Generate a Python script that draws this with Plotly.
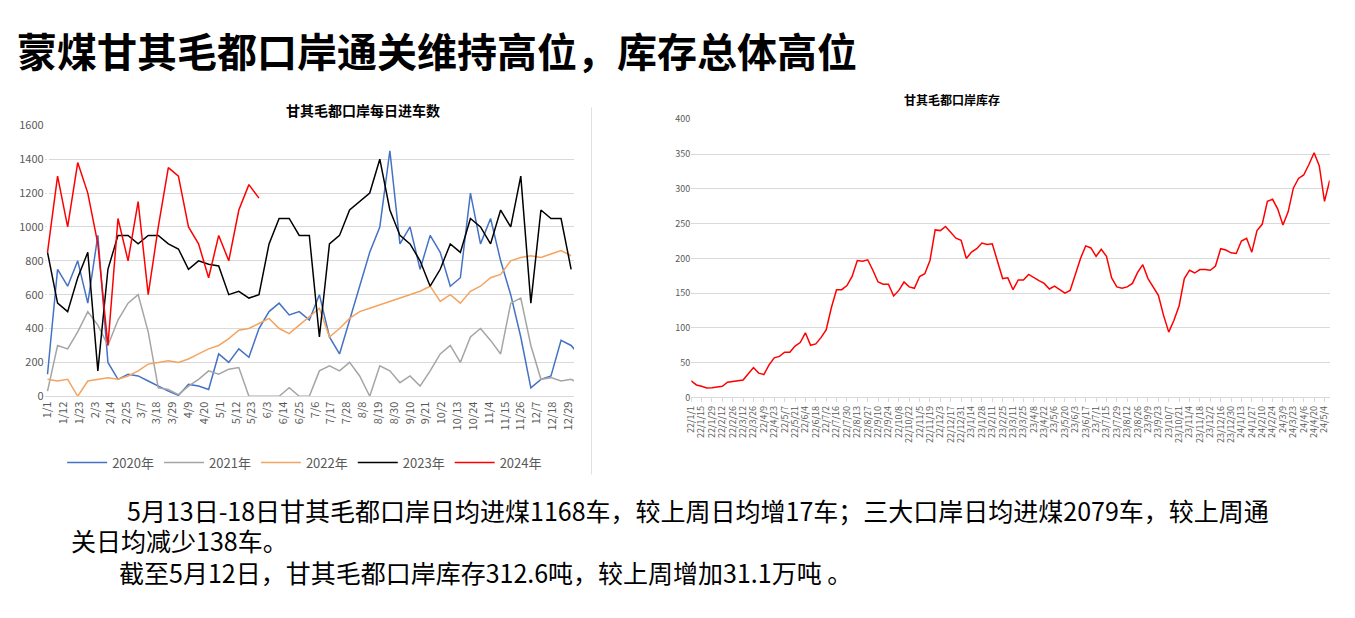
import plotly.graph_objects as go
import pandas as pd

# ---- Left chart: daily trucks (weekly samples) ----
v2020 = [130, 750, 650, 800, 550, 950, 200, 100, 130, 120, 90, 60, 30, 5, 70, 60, 40, 250, 200, 280, 230, 400, 500, 550, 480, 500, 450, 600, 350, 250, 450, 650, 850, 1000, 1450, 900, 1000, 750, 950, 850, 650, 700, 1200, 900, 1050, 800, 600, 350, 50, 100, 120, 330, 300, 230]
v2021 = [30, 300, 280, 380, 500, 420, 300, 450, 550, 600, 380, 50, 40, 10, 60, 100, 150, 130, 160, 170, 0, 0, 0, 0, 50, 0, 0, 150, 180, 150, 200, 120, 0, 180, 150, 80, 120, 60, 150, 250, 300, 200, 350, 400, 330, 250, 550, 580, 300, 100, 110, 90, 100, 70]
v2022 = [100, 90, 100, 0, 90, 100, 110, 100, 120, 150, 190, 200, 210, 200, 220, 250, 280, 300, 340, 390, 400, 430, 460, 400, 370, 420, 470, 520, 350, 400, 460, 500, 520, 540, 560, 580, 600, 620, 650, 560, 600, 550, 620, 650, 700, 720, 800, 820, 830, 820, 840, 860, 830]
v2023 = [850, 550, 500, 700, 850, 150, 750, 950, 950, 900, 950, 950, 900, 870, 750, 800, 780, 770, 600, 620, 580, 600, 900, 1050, 1050, 950, 950, 350, 900, 950, 1100, 1150, 1200, 1400, 1100, 950, 900, 800, 650, 750, 900, 850, 1050, 1000, 900, 1100, 1000, 1300, 550, 1100, 1050, 1050, 750]
v2024 = [850, 1300, 1000, 1380, 1200, 900, 300, 1050, 800, 1150, 600, 1000, 1350, 1300, 1000, 900, 700, 950, 800, 1100, 1250, 1170]
left_ticks = ["1/1", "1/12", "1/23", "2/3", "2/14", "2/25", "3/7", "3/18", "3/29", "4/9", "4/20", "5/1", "5/12", "5/23", "6/3", "6/14", "6/25", "7/6", "7/17", "7/28", "8/8", "8/19", "8/30", "9/10", "9/21", "10/2", "10/13", "10/24", "11/4", "11/15", "11/26", "12/7", "12/18", "12/29"]
series = [("2020年", v2020, "#4472C4"), ("2021年", v2021, "#A5A5A5"), ("2022年", v2022, "#F4A460"),
          ("2023年", v2023, "#000000"), ("2024年", v2024, "#FF0000")]

# ---- Right chart: weekly inventory ----
inventory = [24, 18, 16, 13.5, 14, 14.5, 16, 22, 23, 25, 25, 34, 43, 35, 33, 47, 57, 59, 65, 65, 74, 79, 93, 75, 77, 86, 97, 129, 155, 155, 161, 174, 197, 196, 198, 183, 166, 163, 163, 146, 154, 166, 159, 157, 174, 178, 197, 241, 240, 246, 237, 229, 226, 200, 209, 214, 222, 220, 221, 197, 171, 172,
             155, 169, 169, 177, 172, 168, 164, 156, 160, 155, 150, 154, 178, 200, 218, 215, 203, 213, 203, 172, 159, 157, 159, 164, 180, 191, 171, 159, 147, 118, 94, 111, 132, 171, 183, 179, 184, 184, 183, 189, 214, 212, 208, 207, 225, 229, 209, 240, 249, 282, 285, 271, 248, 267, 301, 315, 320, 335, 352, 333, 282, 312]
start_date = "2022-01-01"

FONT = "Noto Sans CJK SC"
fig = go.Figure()

doy = lambda s: (pd.Timestamp("2021/" + s) - pd.Timestamp("2021-01-01")).days
for name, vals, col in series:
    fig.add_trace(go.Scatter(x=[i * 7 for i in range(len(vals))], y=vals, mode="lines", name=name,
                             line=dict(color=col, width=1.5), xaxis="x", yaxis="y"))

dates = pd.date_range(start_date, periods=len(inventory), freq="7D")
labels = [f"{d.year % 100}/{d.month}/{d.day}" for d in dates]
fig.add_trace(go.Scatter(x=labels, y=inventory, mode="lines", line=dict(color="#FF0000", width=1.5),
                         showlegend=False, xaxis="x2", yaxis="y2"))

grid = "#D9D9D9"
fig.update_layout(
    width=1355, height=618, margin=dict(l=0, r=0, t=0, b=0),
    paper_bgcolor="white", plot_bgcolor="white",
    font=dict(family=FONT, color="#595959"),
    xaxis=dict(domain=[0.022, 0.415], range=[-2, 366], tickvals=[doy(t) for t in left_ticks], ticktext=left_ticks,
               tickangle=-90, tickfont=dict(size=11), showgrid=False, showline=True, linecolor=grid, ticks=""),
    yaxis=dict(domain=[0.37, 0.82], range=[0, 1600], dtick=200, gridcolor=grid, tickfont=dict(size=11),
               zeroline=False),
    xaxis2=dict(domain=[0.502, 0.976], anchor="y2", type="category", tickmode="array",
                tickvals=labels[::2], ticktext=labels[::2], tickangle=-90, tickfont=dict(size=9),
                showgrid=False, showline=True, linecolor=grid, ticks="outside", tickcolor=grid, ticklen=4),
    yaxis2=dict(domain=[0.368, 0.83], anchor="x2", range=[0, 400], dtick=50, gridcolor=grid,
                tickfont=dict(size=9), zeroline=False),
    legend=dict(orientation="h", x=0.035, y=0.26, xanchor="left", yanchor="middle",
                font=dict(size=13, color="#595959"), itemwidth=40),
    shapes=[dict(type="line", xref="paper", yref="paper", x0=0.428, x1=0.428, y0=0.24, y1=0.85,
                 line=dict(color="#E0E0E0", width=1))],
    annotations=[
        dict(text="<b>蒙煤甘其毛都口岸通关维持高位，库存总体高位</b>", xref="paper", yref="paper", x=0.0, y=0.945,
             xanchor="left", yanchor="middle", showarrow=False, font=dict(size=40, color="black")),
        dict(text="<b>甘其毛都口岸每日进车数</b>", xref="paper", yref="paper", x=0.2, y=0.865,
             showarrow=False, font=dict(size=14, color="black")),
        dict(text="<b>甘其毛都口岸库存</b>", xref="paper", yref="paper", x=0.733, y=0.88,
             showarrow=False, font=dict(size=12, color="black")),
        dict(text="5月13日-18日甘其毛都口岸日均进煤1168车，较上周日均增17车；三大口岸日均进煤2079车，较上周通",
             xref="paper", yref="paper", x=0.082, y=0.148, xanchor="left", showarrow=False,
             font=dict(size=25, color="black")),
        dict(text="关日均减少138车。", xref="paper", yref="paper", x=0.04, y=0.098, xanchor="left",
             showarrow=False, font=dict(size=25, color="black")),
        dict(text="截至5月12日，甘其毛都口岸库存312.6吨，较上周增加31.1万吨 。", xref="paper", yref="paper",
             x=0.076, y=0.045, xanchor="left", showarrow=False, font=dict(size=25, color="black")),
    ],
)
fig.write_html("out.html")
